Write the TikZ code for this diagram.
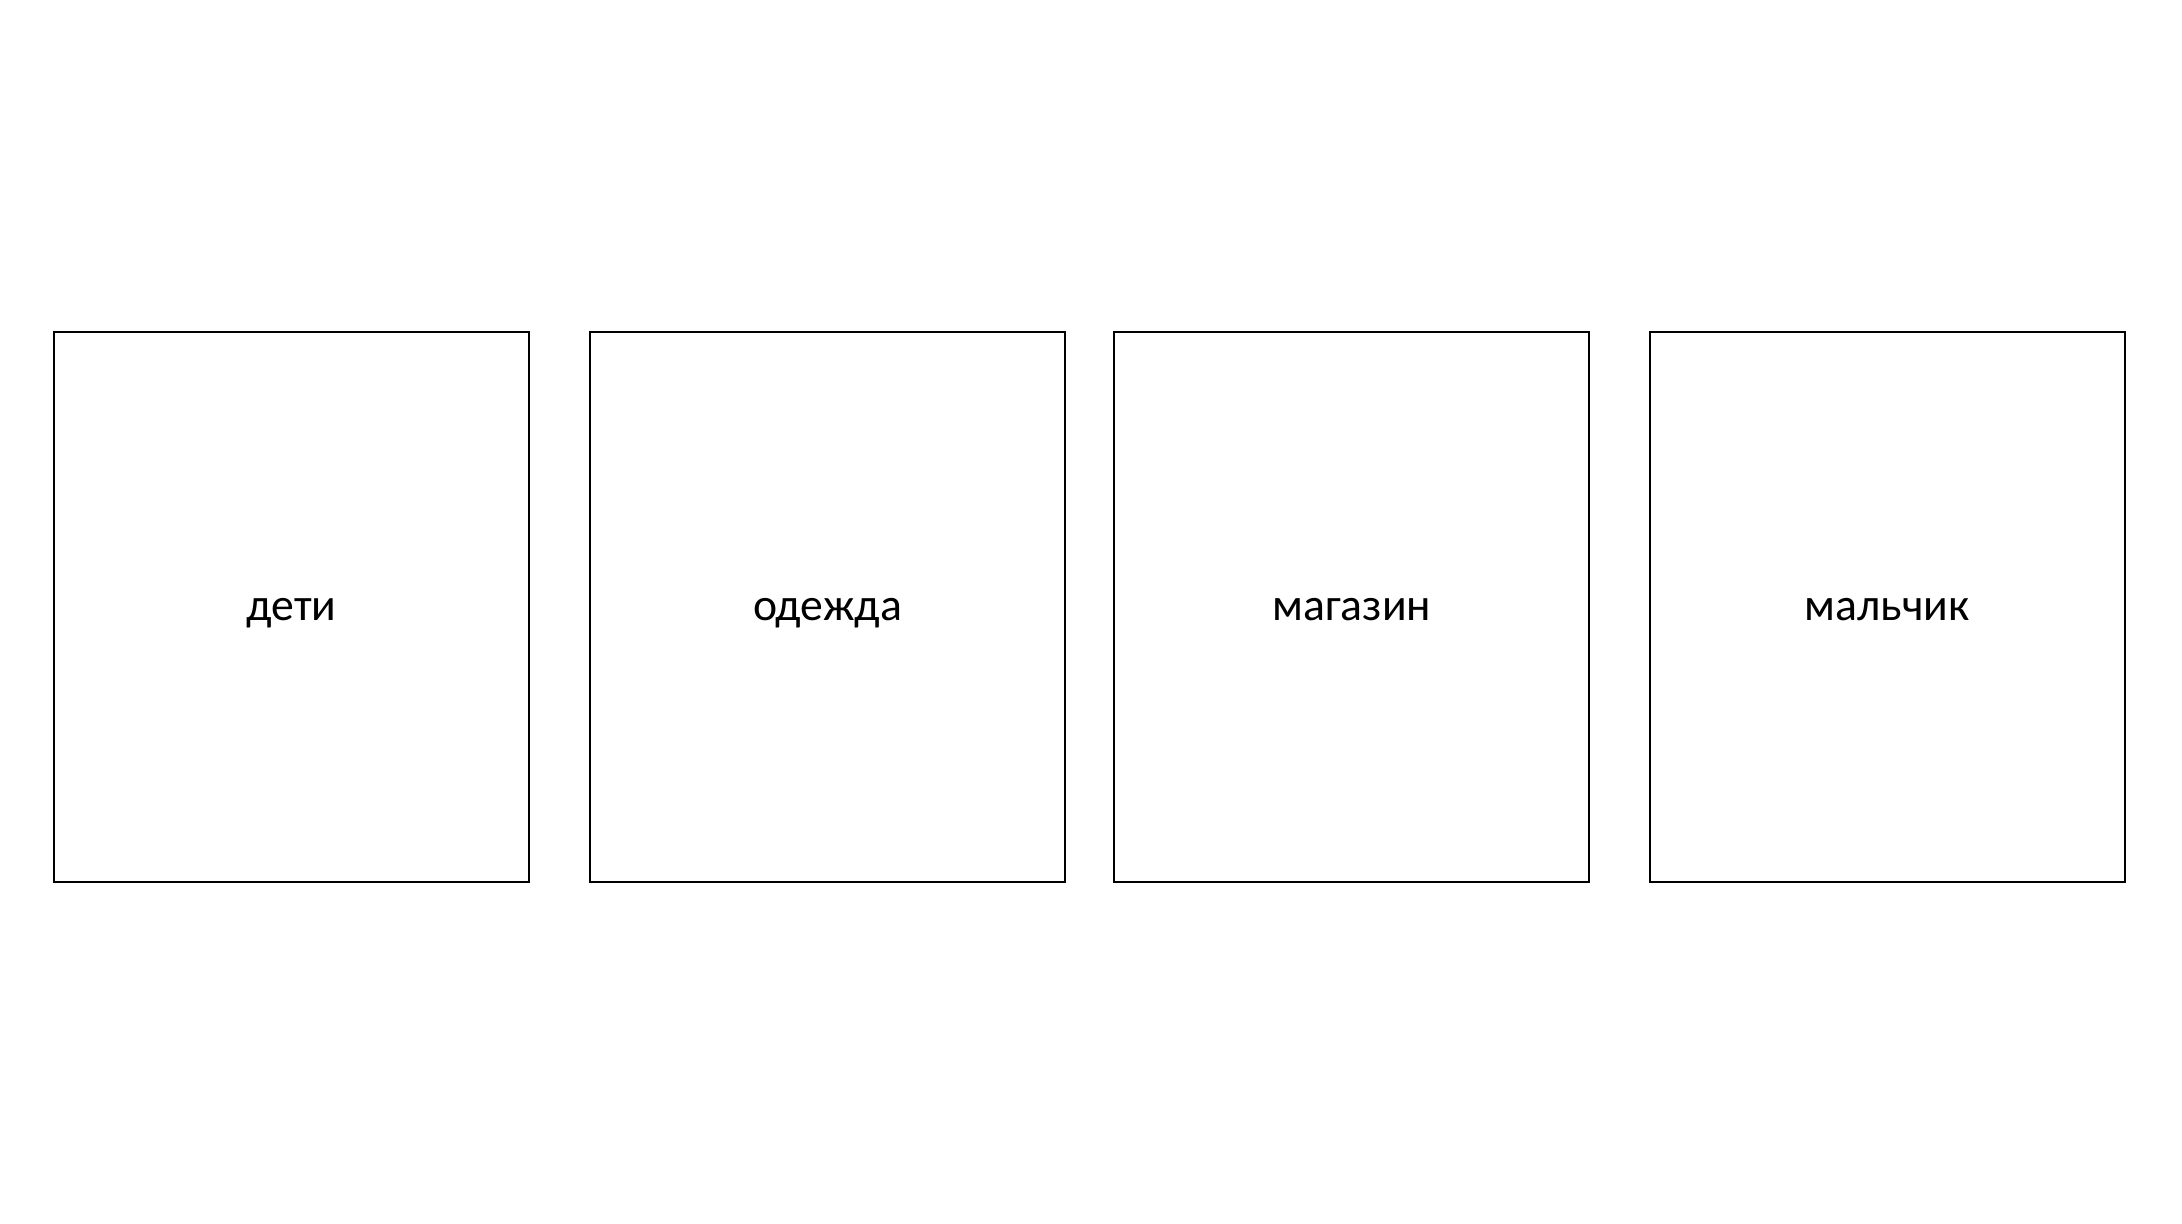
\documentclass[tikz,border=0pt]{standalone}
\usepackage{fontspec}
\setmainfont{Carlito}
\usetikzlibrary{positioning}

\begin{document}
\begin{tikzpicture}[node distance=1.1cm,
                    word/.style={shape=rectangle,draw=black,line width=1.1pt,
                      minimum width=9.5cm,minimum height=11cm,
                      text height=15pt,text depth=0pt,
                      font=\fontsize{26}{32}\selectfont}]

  \useasboundingbox (0,0) rectangle (43.64,-24.48);

  \node[word] (W1) at (5.83,-12.14) {дети};
    \node[word] (W2) [right=1.18cm of W1] {одежда};
      \node[word] (W3) [right=0.95cm of W2] {магазин};
  \node[word] (W4) [right=1.17cm of W3] {мальчик};
\end{tikzpicture}
\end{document}
